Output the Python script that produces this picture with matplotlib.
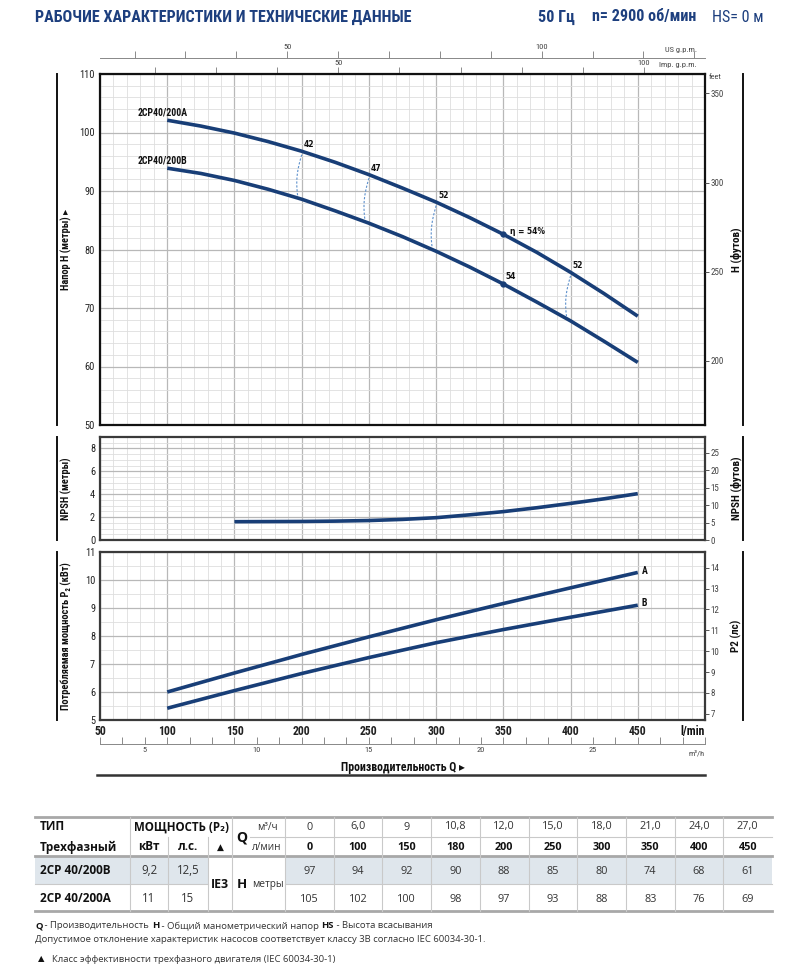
import numpy as np
import matplotlib
matplotlib.use("Agg")
import matplotlib.pyplot as plt
from matplotlib import font_manager
from matplotlib.ticker import MultipleLocator, FixedLocator

installed = {f.name for f in font_manager.fontManager.ttflist}
NARROW = next((n for n in ["Roboto Condensed", "Liberation Sans Narrow"] if n in installed), "Roboto")
BODY = "Open Sans"
NAVY = "#183e77"
TITLE_BLUE = "#1d3f7e"

# ---- data ----
q_head = [100, 125, 150, 175, 200, 225, 250, 275, 300, 325, 350, 375, 400, 425, 450]   # l/min
h_a_curve = [102.1, 101.1, 99.9, 98.45, 96.8, 94.9, 92.8, 90.5, 88.1, 85.45, 82.6, 79.5, 76.1, 72.45, 68.6]
h_b_curve = [93.9, 93.0, 91.8, 90.3, 88.6, 86.6, 84.5, 82.2, 79.7, 77.0, 74.1, 71.0, 67.8, 64.3, 60.7]

q_npsh = [150, 175, 200, 225, 250, 275, 300, 325, 350, 375, 400, 425, 450]
npsh = [1.6, 1.61, 1.62, 1.65, 1.7, 1.8, 1.95, 2.2, 2.48, 2.82, 3.2, 3.6, 4.05]

q_power = [100, 150, 200, 250, 300, 350, 400, 450]
p2_a = [6.0, 6.68, 7.34, 7.97, 8.58, 9.16, 9.72, 10.27]     # kW
p2_b = [5.42, 6.05, 6.66, 7.23, 7.76, 8.23, 8.67, 9.1]

eff_q_top = [200, 250, 300, 400]
eff_q_bot = [197, 247, 297, 397]
eff_text = ["42", "47", "52", "52"]
bep_q = 350

# table
q_m3h = ["0", "6,0", "9", "10,8", "12,0", "15,0", "18,0", "21,0", "24,0", "27,0"]
q_lmin = ["0", "100", "150", "180", "200", "250", "300", "350", "400", "450"]
h_b = [97, 94, 92, 90, 88, 85, 80, 74, 68, 61]
h_a = [105, 102, 100, 98, 97, 93, 88, 83, 76, 69]
models = ["2CP 40/200B", "2CP 40/200A"]
kw = ["9,2", "11"]
hp = ["12,5", "15"]

M_TO_FT = 3.281
KW_TO_HP = 1.341
LMIN_PER_USGPM = 3.785
LMIN_PER_IMPGPM = 4.546
LMIN_PER_M3H = 1000 / 60

W, H = 800, 974
fig = plt.figure(figsize=(W / 100, H / 100), dpi=100)


def box(top, bottom, left=100, right=705):
    return [left / W, 1 - bottom / H, (right - left) / W, (bottom - top) / H]


# overlay in pixel coordinates for decorations and table
ax_t = fig.add_axes([0, 0, 1, 1], zorder=-1)
ax_t.set_xlim(0, W)
ax_t.set_ylim(H, 0)
ax_t.axis("off")

ax_h = fig.add_axes(box(74, 425))
ax_n = fig.add_axes(box(437, 540))
ax_p = fig.add_axes(box(552, 720))


def style(ax, lo, hi, ymaj, ymin, spine):
    ax.set_xlim(50, 500)
    ax.set_ylim(lo, hi)
    ax.xaxis.set_major_locator(MultipleLocator(50))
    ax.xaxis.set_minor_locator(MultipleLocator(10))
    ax.yaxis.set_major_locator(MultipleLocator(ymaj))
    ax.yaxis.set_minor_locator(MultipleLocator(ymin))
    ax.grid(which="major", color="#b8b8b8", lw=0.9)
    ax.grid(which="minor", color="#dedede", lw=0.6)
    ax.set_axisbelow(True)
    ax.tick_params(which="both", length=0, pad=3.5, labelsize=7.5, labelcolor="#222")
    ax.tick_params(axis="x", labelbottom=False)
    for s in ax.spines.values():
        s.set_color(spine)
        s.set_linewidth(1.6)
    for lab in ax.get_yticklabels():
        lab.set_fontfamily(NARROW)


style(ax_h, 50, 110, 10, 2, "#111")
style(ax_n, 0, 9, 2, 0.5, "#3a3a3a")
style(ax_p, 5, 11, 1, 0.5, "#3a3a3a")

# head curves
ax_h.plot(q_head, h_a_curve, color=NAVY, lw=2.6, solid_capstyle="butt")
ax_h.plot(q_head, h_b_curve, color=NAVY, lw=2.6, solid_capstyle="butt")
ax_h.annotate("2CP40/200A", (q_head[0], h_a_curve[0]), xytext=(-30, 8), textcoords="offset pixels",
              ha="left", va="center", fontsize=7, fontweight="bold", family=NARROW, color="#111")
ax_h.annotate("2CP40/200B", (q_head[0], h_b_curve[0]), xytext=(-30, 8), textcoords="offset pixels",
              ha="left", va="center", fontsize=7, fontweight="bold", family=NARROW, color="#111")

# iso-efficiency lines
t = np.linspace(0, 1, 20)
for qt, qb, lab in zip(eff_q_top, eff_q_bot, eff_text):
    ht = np.interp(qt, q_head, h_a_curve)
    hb = np.interp(qb, q_head, h_b_curve)
    qq = qt + (qb - qt) * np.sin(np.pi / 2 * t) - 1.2 * np.sin(np.pi * t)
    hh = ht - 0.6 + (hb - ht + 1.0) * t
    ax_h.plot(qq, hh, color="#5d90cc", lw=0.8, dashes=(2, 1.5))
    ax_h.annotate(lab, (qt, ht), xytext=(2, 2), textcoords="offset pixels", ha="left", va="bottom",
                  fontsize=5.5, fontweight="bold", color="#111")

bep_ha = np.interp(bep_q, q_head, h_a_curve)
bep_hb = np.interp(bep_q, q_head, h_b_curve)
ax_h.plot([bep_q, bep_q], [bep_ha, bep_hb], "o", color=NAVY, ms=3.5)
ax_h.annotate("η = 54%", (bep_q, bep_ha), xytext=(7, 3), textcoords="offset pixels", ha="left", va="center",
              fontsize=5.5, fontweight="bold", color="#111")
ax_h.annotate("54", (bep_q, bep_hb), xytext=(2, 3), textcoords="offset pixels", ha="left", va="bottom",
              fontsize=5.5, fontweight="bold", color="#111")

# npsh
ax_n.plot(q_npsh, npsh, color=NAVY, lw=2.6, solid_capstyle="butt")

# power
ax_p.plot(q_power, p2_a, color=NAVY, lw=2.6, solid_capstyle="butt")
ax_p.plot(q_power, p2_b, color=NAVY, lw=2.6, solid_capstyle="butt")
ax_p.annotate("A", (q_power[-1], p2_a[-1]), xytext=(4, 1), textcoords="offset pixels", ha="left",
              va="center", fontsize=7, fontweight="bold", family=NARROW, color="#111")
ax_p.annotate("B", (q_power[-1], p2_b[-1]), xytext=(4, 2), textcoords="offset pixels", ha="left",
              va="center", fontsize=7, fontweight="bold", family=NARROW, color="#111")

ax_p.set_xticks(range(50, 451, 50))
ax_p.tick_params(axis="x", labelbottom=True, pad=3.5, labelsize=8.5)
for lab in ax_p.get_xticklabels():
    lab.set_fontfamily(NARROW)
    lab.set_fontweight("bold")


# right-hand unit axes
def right_axis(ax, factor, ticks):
    r = ax.twinx()
    lo, hi = ax.get_ylim()
    r.set_ylim(lo * factor, hi * factor)
    r.yaxis.set_major_locator(FixedLocator(ticks))
    r.tick_params(length=3, width=0.7, color="#555", labelsize=6.5, labelcolor="#444", pad=1)
    for lab in r.get_yticklabels():
        lab.set_fontfamily(NARROW)
    for s in r.spines.values():
        s.set_visible(False)
    return r


right_axis(ax_h, M_TO_FT, [200, 250, 300, 350])
right_axis(ax_n, M_TO_FT, [0, 5, 10, 15, 20, 25])
right_axis(ax_p, KW_TO_HP, [7, 8, 9, 10, 11, 12, 13, 14])

# gpm scales on top
us = ax_h.secondary_xaxis(1 + 16 / 351, functions=(lambda q: q / LMIN_PER_USGPM, lambda g: g * LMIN_PER_USGPM))
imp = ax_h.secondary_xaxis(1.0, functions=(lambda q: q / LMIN_PER_IMPGPM, lambda g: g * LMIN_PER_IMPGPM))
for sec in (us, imp):
    sec.xaxis.set_major_locator(FixedLocator([50, 100]))
    sec.xaxis.set_minor_locator(MultipleLocator(10))
    sec.tick_params(which="both", direction="out", length=5, width=0.6, color="#777",
                    labelsize=6, labelcolor="#444", pad=1)
    for lab in sec.get_xticklabels():
        lab.set_fontfamily(NARROW)
us.spines["top"].set_color("#888")
us.spines["top"].set_linewidth(0.7)
imp.spines["top"].set_visible(False)

# m3/h scale below
m3 = ax_p.secondary_xaxis(-24 / 168, functions=(lambda q: q / LMIN_PER_M3H, lambda m: m * LMIN_PER_M3H))
m3.xaxis.set_major_locator(FixedLocator([5, 10, 15, 20, 25]))
m3.xaxis.set_minor_locator(MultipleLocator(1))
m3.tick_params(which="both", direction="in", length=5, width=0.6, color="#777",
               labelsize=6, labelcolor="#444", pad=2)
for lab in m3.get_xticklabels():
    lab.set_fontfamily(NARROW)
m3.spines["bottom"].set_color("#888")
m3.spines["bottom"].set_linewidth(0.7)


# ---- decorations in pixel space ----
def txt(x, y, s, **kw):
    kw.setdefault("va", "center")
    kw.setdefault("color", "#111")
    return ax_t.text(x, y, s, **kw)


txt(35, 17, "РАБОЧИЕ ХАРАКТЕРИСТИКИ И ТЕХНИЧЕСКИЕ ДАННЫЕ", fontsize=11.6, fontweight="bold",
    family=NARROW, color=TITLE_BLUE)
txt(538, 17, "50 Гц", fontsize=11.6, fontweight="bold", family=NARROW, color=TITLE_BLUE)
txt(592, 17, "n= 2900 об/мин", fontsize=11.6, fontweight="bold", family=NARROW, color=TITLE_BLUE)
txt(712, 17, "HS= 0 м", fontsize=11.6, family=NARROW, color=TITLE_BLUE)

txt(697, 50, "US g.p.m.", fontsize=6, family=NARROW, ha="right", color="#444")
txt(697, 65, "Imp. g.p.m.", fontsize=6, family=NARROW, ha="right", color="#444")
txt(709, 77, "feet", fontsize=6, family=NARROW, ha="left", color="#444")
txt(705, 731, "l/min", fontsize=8.5, family=NARROW, fontweight="bold", ha="right")
txt(705, 753, "m³/h", fontsize=6, family=NARROW, ha="right", color="#444")
txt(465, 767, "Производительность Q ▸", fontsize=8.5, family=[NARROW, "DejaVu Sans"],
    fontweight="bold", ha="right")
ax_t.plot([97, 705], [775, 775], color="#333", lw=1.8)

for top, bot, left_lab, right_lab in [(74, 425, "Напор H (метры) ▸", "H (футов)"),
                                      (437, 540, "NPSH (метры)", "NPSH (футов)"),
                                      (552, 720, "Потребляемая мощность P₂ (кВт)", "P2 (лс)")]:
    ax_t.plot([57, 57], [top, bot], color="#111", lw=1.4)
    ax_t.plot([743, 743], [top, bot], color="#111", lw=1.4)
    mid = (top + bot) / 2
    txt(66, mid, left_lab, rotation=90, ha="center", fontsize=7.5, fontweight="bold",
        family=[NARROW, "DejaVu Sans"])
    txt(736, mid, right_lab, rotation=90, ha="center", fontsize=8, fontweight="bold",
        family=[NARROW, "DejaVu Sans"])

# ---- table ----
LINE = "#c9c9c9"
THICK = "#a8a8a8"
x0, x1 = 35, 772
col_w = (x1 - 285) / len(q_m3h)
cx = [285 + col_w * (i + 0.5) for i in range(len(q_m3h))]

ax_t.fill_between([x0, 208], 856, 884, color="#dfe6ec", lw=0)
ax_t.fill_between([285, x1], 856, 884, color="#dfe6ec", lw=0)
ax_t.plot([x0, x1], [817, 817], color=THICK, lw=2)
ax_t.plot([250, x1], [837, 837], color=LINE, lw=0.8)
ax_t.plot([x0, x1], [856, 856], color=THICK, lw=2)
ax_t.plot([x0, 208], [884, 884], color=LINE, lw=0.8)
ax_t.plot([285, x1], [884, 884], color=LINE, lw=0.8)
ax_t.plot([x0, x1], [911, 911], color=THICK, lw=2)
for xv in [130, 232, 285] + [285 + col_w * i for i in range(1, len(q_m3h))]:
    ax_t.plot([xv, xv], [817, 911], color=LINE, lw=0.8)
for xv in [168, 208]:
    ax_t.plot([xv, xv], [837, 911], color=LINE, lw=0.8)

TF = [BODY, "DejaVu Sans"]
txt(40, 827, "ТИП", fontsize=8.5, fontweight="bold", family=TF)
txt(181, 827, "МОЩНОСТЬ (P₂)", fontsize=8.3, fontweight="bold", family=TF, ha="center")
txt(40, 847, "Трехфазный", fontsize=8.5, fontweight="bold", family=TF)
txt(149, 847, "кВт", fontsize=8.5, fontweight="bold", family=TF, ha="center")
txt(188, 847, "л.с.", fontsize=8.5, fontweight="bold", family=TF, ha="center")
txt(220, 847, "▲", fontsize=6.5, family=TF, ha="center")
txt(242, 838, "Q", fontsize=10, fontweight="bold", family=TF, ha="center")
txt(267, 827, "м³/ч", fontsize=7.2, family=TF, ha="center", color="#333")
txt(267, 847, "л/мин", fontsize=7.2, family=TF, ha="center", color="#333")
for x, m, l in zip(cx, q_m3h, q_lmin):
    txt(x, 827, m, fontsize=7.8, family=TF, ha="center", color="#333")
    txt(x, 847, l, fontsize=7.8, fontweight="bold", family=TF, ha="center")
for y, name, k, p, hv in zip([871, 899], models, kw, hp, [h_b, h_a]):
    txt(40, y, name, fontsize=8.5, fontweight="bold", family=TF)
    txt(149, y, k, fontsize=8.3, family=TF, ha="center", color="#333")
    txt(188, y, p, fontsize=8.3, family=TF, ha="center", color="#333")
    for x, v in zip(cx, hv):
        txt(x, y, str(v), fontsize=7.8, family=TF, ha="center", color="#333")
txt(220, 885, "IE3", fontsize=8.8, fontweight="bold", family=TF, ha="center")
txt(237, 885, "H", fontsize=9.5, fontweight="bold", family=TF)
txt(252, 885, "метры", fontsize=7.2, family=TF, color="#333")

# ---- footnotes ----
renderer = fig.canvas.get_renderer()


def runs(x, y, parts):
    for s, bold in parts:
        t_ = txt(x, y, s, fontsize=6.8, family=TF, fontweight="bold" if bold else "normal",
                 color="#111" if bold else "#333")
        x += t_.get_window_extent(renderer).width


runs(35, 926, [("Q", True), (" - Производительность ", False), ("H", True),
               (" - Общий манометрический напор ", False), ("HS", True), (" - Высота всасывания", False)])
txt(35, 940, "Допустимое отклонение характеристик насосов соответствует классу 3B согласно IEC 60034-30-1.",
    fontsize=6.8, family=TF, color="#333")
txt(38, 960, "▲", fontsize=6, family=TF)
txt(52, 960, "Класс эффективности трехфазного двигателя (IEC 60034-30-1)", fontsize=6.8, family=TF, color="#333")

fig.savefig("out.png", dpi=100)
